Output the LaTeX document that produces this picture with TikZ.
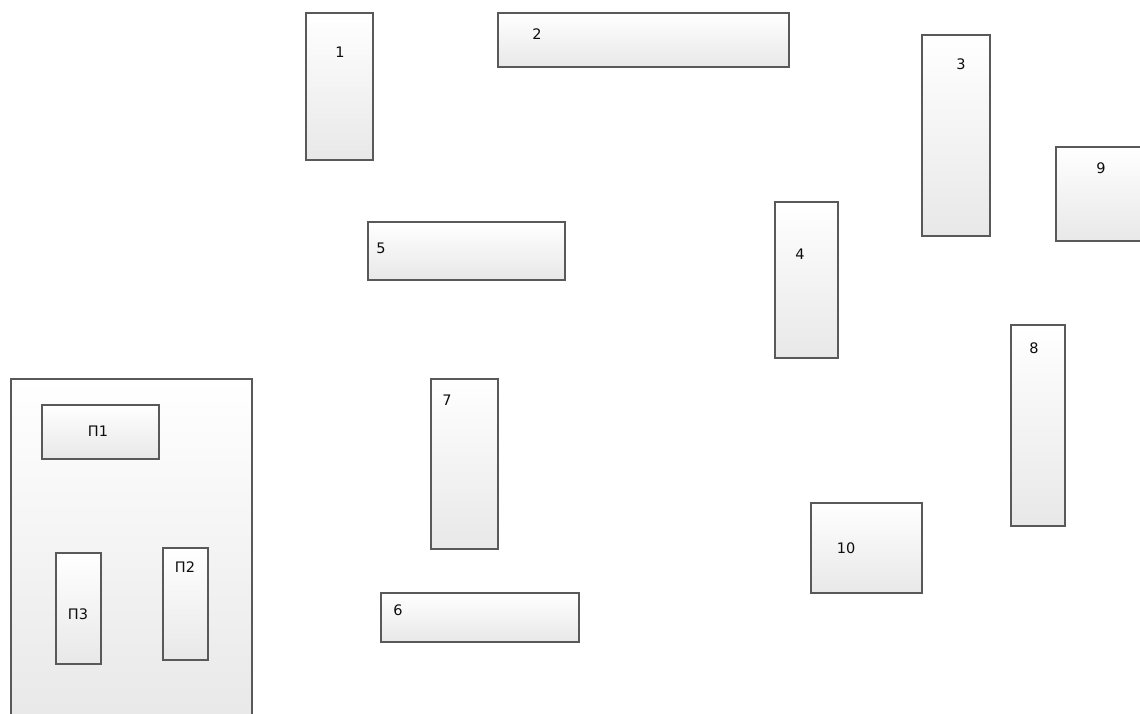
\documentclass[tikz,border=0pt]{standalone}
\usepackage{fontspec}
\setmainfont{DejaVu Sans}
\begin{document}
\begin{tikzpicture}[x=1pt,y=-1pt,
  box/.style={draw=black!65, line width=1.8pt, top color=white, bottom color=black!9, rectangle, inner sep=0pt},
  lab/.style={font=\fontsize{14.5}{16}\selectfont, text=black!95, inner sep=0pt}]
\useasboundingbox (0,0) rectangle (1140,713);
\clip (0,0) rectangle (1140,713);
\node[box, anchor=north west, minimum width=241, minimum height=345] (big) at (10,378) {};
\node[box, anchor=north west, minimum width=67, minimum height=147] (b1) at (305,12) {};
\node[box, anchor=north west, minimum width=291, minimum height=54] (b2) at (497,12) {};
\node[box, anchor=north west, minimum width=68, minimum height=201] (b3) at (921,34) {};
\node[box, anchor=north west, minimum width=95, minimum height=94] (b9) at (1055,146) {};
\node[box, anchor=north west, minimum width=197, minimum height=58] (b5) at (367,221) {};
\node[box, anchor=north west, minimum width=63, minimum height=156] (b4) at (774,201) {};
\node[box, anchor=north west, minimum width=54, minimum height=201] (b8) at (1010,324) {};
\node[box, anchor=north west, minimum width=67, minimum height=170] (b7) at (430,378) {};
\node[box, anchor=north west, minimum width=111, minimum height=90] (b10) at (810,502) {};
\node[box, anchor=north west, minimum width=198, minimum height=49] (b6) at (380,592) {};
\node[box, anchor=north west, minimum width=117, minimum height=54] (p1) at (41,404) {};
\node[box, anchor=north west, minimum width=45, minimum height=111] (p3) at (55,552) {};
\node[box, anchor=north west, minimum width=45, minimum height=112] (p2) at (162,547) {};
\node[lab] (l1) at (340,52) {1};
\node[lab] (l2) at (537,34) {2};
\node[lab] (l3) at (961,64) {3};
\node[lab] (l9) at (1101,168) {9};
\node[lab] (l5) at (381,248) {5};
\node[lab] (l4) at (800,254) {4};
\node[lab] (l8) at (1034,348) {8};
\node[lab] (l7) at (447,400) {7};
\node[lab] (l10) at (846,548) {10};
\node[lab] (l6) at (398,610) {6};
\node[lab] (lp1) at (98,431) {П1};
\node[lab] (lp3) at (78,614) {П3};
\node[lab] (lp2) at (185,567) {П2};
\end{tikzpicture}
\end{document}
